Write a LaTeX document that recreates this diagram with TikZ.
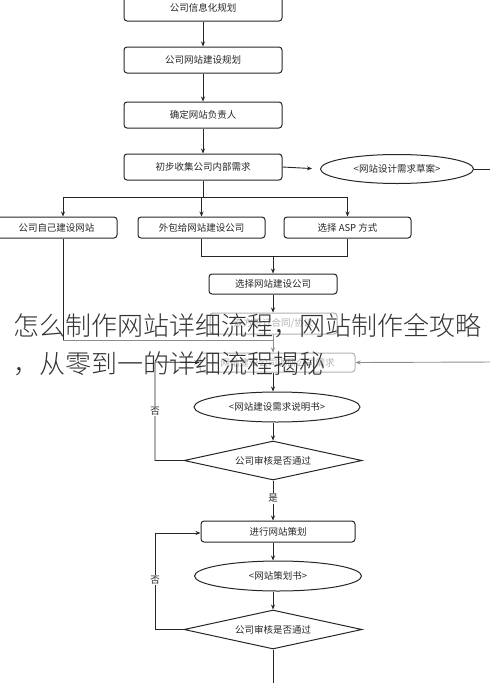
\documentclass[tikz,border=0pt]{standalone}
\usepackage{fontspec}
\setmainfont{Noto Sans CJK SC}
\newfontfamily\titlefont{Noto Sans CJK SC Light}
\usetikzlibrary{shapes.geometric,arrows.meta,calc}
\definecolor{ln}{HTML}{262626}
\definecolor{fd}{HTML}{B0B0B0}
\begin{document}
\begin{tikzpicture}[x=1pt,y=-1pt,
  box/.style={draw=ln,line width=1pt,rounded corners=3pt,inner sep=0pt,font=\fontsize{9.5}{11}\selectfont,text=ln},
  fbox/.style={box,draw=fd,text=fd},
  oval/.style={draw=ln,line width=1pt,ellipse,inner sep=0pt,font=\fontsize{9.5}{11}\selectfont,text=ln},
  dia/.style={draw=ln,line width=1pt,diamond,aspect=4.5,inner sep=0pt,font=\fontsize{9.5}{11}\selectfont,text=ln},
  con/.style={draw=ln,line width=0.9pt},
  arr/.style={con,-{Stealth[length=5pt,width=4pt]}},
  farr/.style={arr,draw=fd!80!black},
  fcon/.style={con,draw=fd!80!black},
  lab/.style={font=\fontsize{9.5}{11}\selectfont,text=ln,fill=white,inner sep=1pt},
  title/.style={font=\titlefont\fontsize{26}{30}\selectfont,text=black!80,anchor=west,inner sep=0pt}]
\useasboundingbox (0,0) rectangle (490,683);
\clip (0,0) rectangle (490,683);
% top column
\node[box,minimum width=158,minimum height=27] (b1) at (203,7.5) {公司信息化规划};
\node[box,minimum width=158,minimum height=26] (b2) at (203,60) {公司网站建设规划};
\node[box,minimum width=158,minimum height=26] (b3) at (203,115) {确定网站负责人};
\node[box,minimum width=158,minimum height=26] (b4) at (203,167) {初步收集公司内部需求};
\node[oval,minimum width=153,minimum height=29] (e1) at (397,169) {<网站设计需求草案>};
% branches
\node[box,minimum width=121,minimum height=21] (bA) at (56.5,227.5) {公司自己建设网站};
\node[box,minimum width=127,minimum height=21] (bB) at (201.5,227.5) {外包给网站建设公司};
\node[box,minimum width=127,minimum height=21] (bC) at (347.5,227.5) {选择 ASP 方式};
\node[box,minimum width=128,minimum height=20] (bS) at (273,284) {选择网站建设公司};
\node[fbox,minimum width=127,minimum height=21] (bF1) at (273.5,323.5) {双方签订合同/协议};
\node[fbox,minimum width=155,minimum height=19] (bF2) at (277.5,362.5) {网站建设公司调研公司需求};
% lower part
\node[oval,minimum width=166,minimum height=30] (e2) at (277,407) {<网站建设需求说明书>};
\node[dia,minimum width=178,minimum height=39] (d1) at (273,460.5) {公司审核是否通过};
\node[box,minimum width=154,minimum height=21] (bP) at (278,531.5) {进行网站策划};
\node[oval,minimum width=167,minimum height=30] (e3) at (278,576) {<网站策划书>};
\node[dia,minimum width=178,minimum height=39] (d2) at (273,629.5) {公司审核是否通过};
\coordinate (jt) at (203,197);
\coordinate (jb) at (273,256);
\coordinate (jl) at (63,340);
\coordinate (rr) at (496,362);
\coordinate (bot) at (273,690);
% connectors
\draw[arr] (b1) -- (b2);
\draw[arr] (b2) -- (b3);
\draw[arr] (b3) -- (b4);
\draw[arr,shorten >=8pt] (b4.east) -- (e1.west);
\draw[con] (e1.east) -- (e1.east -| rr);
\draw[farr] (rr) -- (bF2.east);
\draw[con] (b4.south -| jt) -- (jt);
\draw[con] (jt -| jl) -- (jt -| bC);
\draw[arr] (jt -| jl) -- (bA.north -| jl);
\draw[arr] (jt -| bB) -- (bB.north);
\draw[arr] (jt -| bC) -- (bC.north);
\draw[con] (bB.south) |- (jb -| bC) -- (bC.south);
\draw[arr] (jb) -- (bS.north -| jb);
\draw[arr] (bS.south) -- (bF1.north -| bS);
\draw[farr] (bF1.south -| bS) -- (bF2.north -| bS);
\draw[con] (bA.south -| jl) -- (jl);
\draw[fcon] (jl) -- (jl -| bS);
\draw[arr] (bF2.south -| d1) -- (e2.north -| d1);
\draw[arr] (e2.south -| d1) -- (d1.north);
\draw[arr] (d1.south) -- node[lab,pos=0.45] (yes1) {是} (bP.north -| d1);
\draw[arr] (d1.west) -| (155,362) -- (bF2.west);
\node[lab] (no1) at (155,411) {否};
\draw[arr] (bP.south -| d2) -- (e3.north -| d2);
\draw[arr] (e3.south -| d2) -- (d2.north);
\draw[arr] (d2.west) -| (155,533) -- (bP.west |- 0,533);
\node[lab] (no2) at (155,580) {否};
\draw[con] (d2.south) -- (bot);
% overlay title
\node[title] (t1) at (13,326) {怎么制作网站详细流程，网站制作全攻略};
\node[title] (t2) at (13,364) {，从零到一的详细流程揭秘};
\end{tikzpicture}
\end{document}
